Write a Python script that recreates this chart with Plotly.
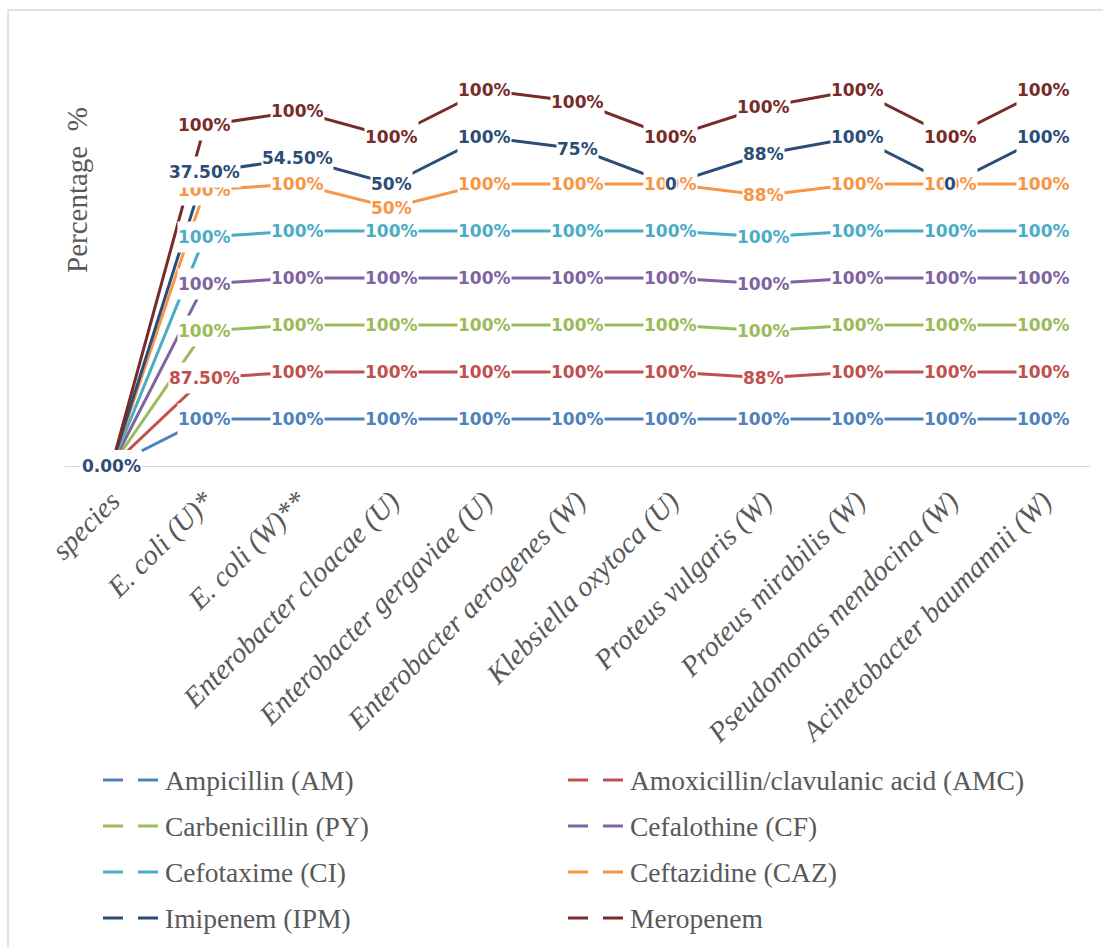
import numpy as np
import plotly.graph_objects as go

categories = [
    "species", "E. coli (U)*", "E. coli (W)**", "Enterobacter cloacae (U)",
    "Enterobacter gergaviae (U)", "Enterobacter aerogenes (W)",
    "Klebsiella oxytoca (U)", "Proteus vulgaris (W)", "Proteus mirabilis (W)",
    "Pseudomonas mendocina (W)", "Acinetobacter baumannii (W)",
]

series_names = [
    "Ampicillin (AM)", "Amoxicillin/clavulanic acid (AMC)", "Carbenicillin (PY)",
    "Cefalothine (CF)", "Cefotaxime (CI)", "Ceftazidine (CAZ)", "Imipenem (IPM)",
    "Meropenem",
]
series_colors = ["#4F81BD", "#C0504D", "#9BBB59", "#8064A2", "#4BACC6", "#F79646",
                 "#2C4D75", "#772C2A"]

am = [0, 100, 100, 100, 100, 100, 100, 100, 100, 100, 100]
amc = [0, 87.5, 100, 100, 100, 100, 100, 88, 100, 100, 100]
py = [0, 100, 100, 100, 100, 100, 100, 100, 100, 100, 100]
cf = [0, 100, 100, 100, 100, 100, 100, 100, 100, 100, 100]
ci = [0, 100, 100, 100, 100, 100, 100, 100, 100, 100, 100]
caz = [0, 100, 100, 50, 100, 100, 100, 88, 100, 100, 100]
ipm = [0, 37.5, 54.5, 50, 100, 75, 0, 88, 100, 0, 100]
mem = [0, 100, 100, 100, 100, 100, 100, 100, 100, 100, 100]

# data label text as printed on the chart
am_lbl = ["0.00%"] + ["100%"] * 10
amc_lbl = ["0.00%", "87.50%", "100%", "100%", "100%", "100%", "100%", "88%", "100%", "100%", "100%"]
py_lbl = ["0.00%"] + ["100%"] * 10
cf_lbl = ["0.00%"] + ["100%"] * 10
ci_lbl = ["0.00%"] + ["100%"] * 10
caz_lbl = ["0.00%", "100%", "100%", "50%", "100%", "100%", "100%", "88%", "100%", "100%", "100%"]
ipm_lbl = ["0.00%", "37.50%", "54.50%", "50%", "100%", "75%", "0", "88%", "100%", "0", "100%"]
mem_lbl = ["0.00%"] + ["100%"] * 10

values = [am, amc, py, cf, ci, caz, ipm, mem]
labels = [am_lbl, amc_lbl, py_lbl, cf_lbl, ci_lbl, caz_lbl, ipm_lbl, mem_lbl]

W, H = 1103, 948
ML, MR, MT, MB = 65, 13, 43, 482
PW, PH = W - ML - MR, H - MT - MB


def px_x(p):
    return (p - ML) / PW


def px_y(p):
    return (H - MB - p) / PH


xs = list(range(len(categories)))
fig = go.Figure()
for name, col, vals in zip(series_names, series_colors, values):
    fig.add_trace(go.Scatter(
        x=xs, y=vals, name=name, mode="lines", stackgroup="s", fill="none",
        line=dict(color=col, width=3), showlegend=False, hoverinfo="skip",
    ))

# stacked totals give the position of each data label
cum = np.cumsum(np.array(values, dtype=float), axis=0)
label_anns = []
for i in range(len(values)):
    for j in xs:
        label_anns.append((1 if (j == 0 and i == 6) else 0, dict(
            x=j, y=cum[i][j], xref="x", yref="y", text=labels[i][j],
            showarrow=False, xanchor="center", yanchor="middle",
            font=dict(family="DejaVu Sans", size=17, color=series_colors[i], weight="bold"),
            bgcolor="white", borderpad=0, height=30,
        )))
# the Imipenem label sits on top of the shared zero point
annotations = [a for _, a in sorted(label_anns, key=lambda t: t[0])]

# y axis title
annotations.append(dict(
    x=px_x(77), y=px_y(190), xref="paper", yref="paper", text="Percentage\u00a0\u00a0%",
    showarrow=False, textangle=-90, xanchor="center", yanchor="middle",
    font=dict(family="Liberation Serif", size=29, color="#595959"),
))

# legend: two columns, dashed keys
shapes = []
for k, (name, col) in enumerate(zip(series_names, series_colors)):
    c, r = k % 2, k // 2
    x0 = 103 + 465 * c
    yc = 780 + 46 * r
    for a, b in ((x0, x0 + 20), (x0 + 35, x0 + 55)):
        shapes.append(dict(type="line", xref="paper", yref="paper",
                           x0=px_x(a), x1=px_x(b), y0=px_y(yc), y1=px_y(yc),
                           line=dict(color=col, width=3)))
    annotations.append(dict(
        x=px_x(x0 + 60), y=px_y(yc), xref="paper", yref="paper", text=name,
        showarrow=False, xanchor="left", yanchor="middle",
        font=dict(family="Liberation Serif", size=27.5, color="#595959"),
    ))

# chart area border
shapes.append(dict(type="rect", xref="paper", yref="paper",
                   x0=px_x(8), x1=px_x(1120), y0=px_y(970), y1=px_y(10),
                   line=dict(color="#D9D9D9", width=1.5), fillcolor="rgba(0,0,0,0)",
                   layer="below"))

fig.update_layout(
    width=W, height=H, autosize=False,
    margin=dict(l=ML, r=MR, t=MT, b=MB, pad=0),
    paper_bgcolor="white", plot_bgcolor="white",
    showlegend=False,
    annotations=annotations, shapes=shapes,
    xaxis=dict(
        range=[-0.5, len(categories) - 0.5], tickmode="array", tickvals=xs,
        ticktext=categories, tickangle=-45, showgrid=False, zeroline=False,
        showline=True, linecolor="#D9D9D9", linewidth=1, ticks="",
        ticklabelstandoff=6,
        tickfont=dict(family="Liberation Serif", size=28.5, color="#595959", style="italic"),
        fixedrange=True,
    ),
    yaxis=dict(
        range=[0, 900], showgrid=False, zeroline=False, showline=False,
        showticklabels=False, ticks="", fixedrange=True,
    ),
)

fig.write_html("out.html")
